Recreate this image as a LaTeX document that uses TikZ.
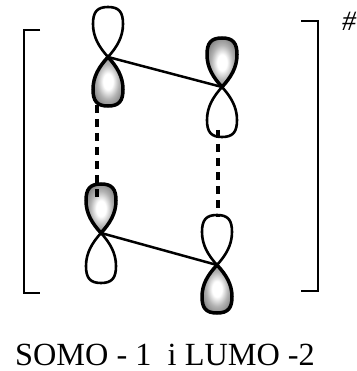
\documentclass[tikz,border=0pt]{standalone}
\usepackage{fontspec}
\setmainfont{Liberation Serif}
\newcommand{\pLobe}[1]{(0,0) .. controls (-9,#1*0.2) and (-15,#1*0.4) .. (-15,#1*0.66) .. controls (-15,#1*0.9) and (-11,#1) .. (0,#1) .. controls (11,#1) and (15,#1*0.9) .. (15,#1*0.66) .. controls (15,#1*0.4) and (9,#1*0.2) .. (0,0)}
\pgfdeclareradialshading{lobegray}{\pgfpointorigin}{color(0bp)=(white); color(8bp)=(white); color(18bp)=(black!30); color(28bp)=(black!50); color(50bp)=(black!70)}
\tikzset{
  lobeline/.style={draw=black, line width=2.6pt},
  lobeshade/.style={draw=black, line width=3.5pt, shading=lobegray},
  bondline/.style={draw=black, line width=2.5pt},
  bracketline/.style={draw=black, line width=2.4pt},
  overlapline/.style={draw=black, line width=3.1pt, dash pattern=on 8pt off 6pt},
  lobelabel/.style={inner sep=0pt, anchor=base west}
}
\begin{document}
\begin{tikzpicture}[x=1pt,y=-1pt]
\useasboundingbox (0,0) rectangle (356,371);
\coordinate (leftUp) at (108,57);
\coordinate (rightUp) at (222,87);
\coordinate (leftDown) at (101,233);
\coordinate (rightDown) at (217,265);
\coordinate (dashAa) at (97,105);
\coordinate (dashAb) at (97,199);
\coordinate (dashBa) at (218,130);
\coordinate (dashBb) at (218,217);
% upper pair
\draw[lobeline, shift={(leftUp)}] \pLobe{-50};
\shadedraw[lobeshade, shift={(leftUp)}] \pLobe{49};
\shadedraw[lobeshade, shift={(rightUp)}] \pLobe{-49};
\draw[lobeline, shift={(rightUp)}] \pLobe{50};
% lower pair
\shadedraw[lobeshade, shift={(leftDown)}] \pLobe{-49};
\draw[lobeline, shift={(leftDown)}] \pLobe{50};
\draw[lobeline, shift={(rightDown)}] \pLobe{-50};
\shadedraw[lobeshade, shift={(rightDown)}] \pLobe{48};
% bonds
\draw[bondline] (leftUp) -- (rightUp);
\draw[bondline] (leftDown) -- (rightDown);
\draw[overlapline] (dashAa) -- (dashAb);
\draw[overlapline] (dashBa) -- (dashBb);
% brackets
\draw[bracketline] (40,30) -- (24,30) -- (24,293) -- (40,293);
\draw[bracketline] (301,21) -- (318,21) -- (318,291) -- (301,291);
\node[lobelabel] (charge) at (342,31) {\fontsize{28}{28}\selectfont\itshape \#};
\node[lobelabel] (caption) at (15,365) {\fontsize{32.3}{32.3}\selectfont SOMO - 1~ i LUMO -2};
\end{tikzpicture}
\end{document}
